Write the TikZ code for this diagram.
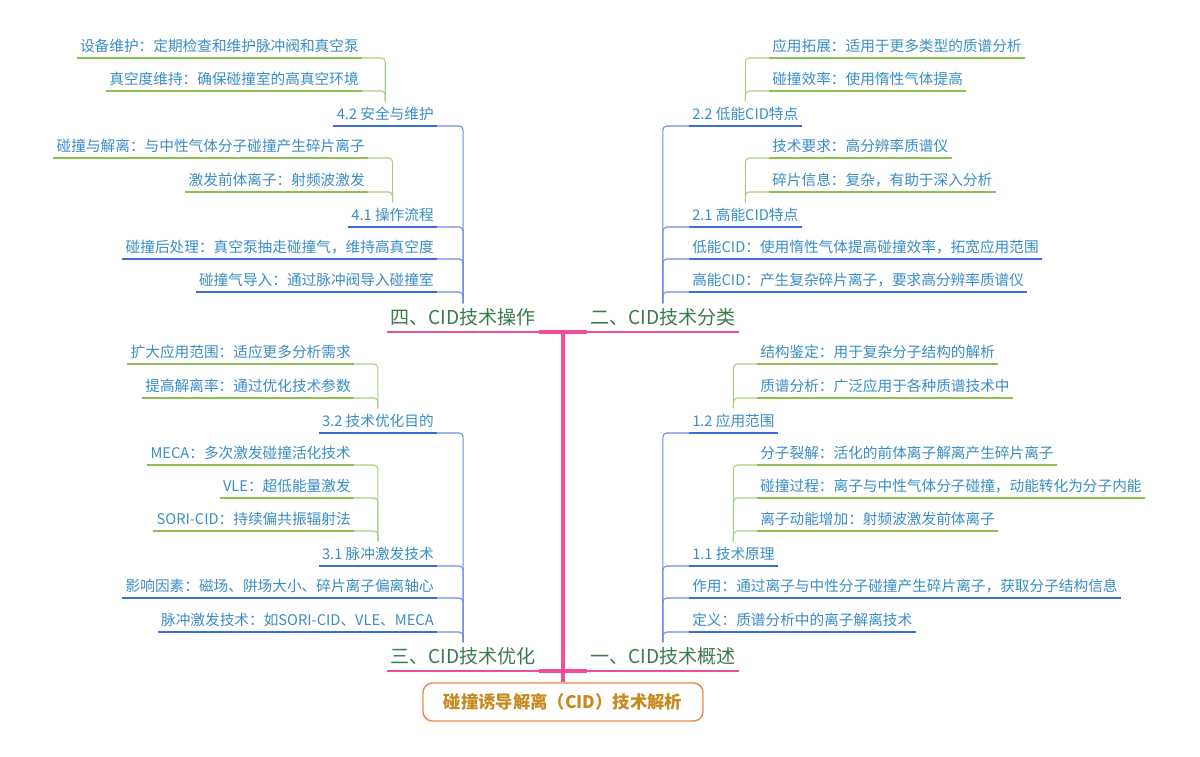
\documentclass[tikz,border=0pt]{standalone}
\usepackage{fontspec}
\setmainfont{Noto Sans CJK SC}
\usepackage{xcolor}
\definecolor{spine}{HTML}{EE4E9B}
\definecolor{mainfg}{HTML}{3B7A4A}
\definecolor{leaffg}{HTML}{3A8DC5}
\definecolor{blueline}{HTML}{3B6FD8}
\definecolor{greenline}{HTML}{8CC152}
\definecolor{bluecon}{HTML}{7089E2}
\definecolor{greencon}{HTML}{A8CF80}
\definecolor{rootfg}{HTML}{C68A1E}
\definecolor{rootline}{HTML}{F08A4B}
\usepackage{tikz}
\usetikzlibrary{positioning,calc}

\begin{document}
\begin{tikzpicture}[x=0.75pt,y=-0.75pt,
	leaf/.style={inner xsep=2.25pt,inner ysep=3.5pt,text height=9.7pt,text depth=1.3pt,font=\fontsize{11pt}{13pt}\selectfont,text=leaffg},
	main/.style={inner xsep=2.25pt,inner ysep=3.4pt,text height=12.6pt,text depth=1.7pt,font=\fontsize{14.3pt}{17pt}\selectfont,text=mainfg},
	bline/.style={draw=blueline,line width=1.1pt},
	gline/.style={draw=greenline,line width=1.1pt},
	pline/.style={draw=spine,line width=1.1pt},
	bcon/.style={draw=bluecon,line width=0.8pt,rounded corners=3pt},
	gcon/.style={draw=greencon,line width=0.8pt,rounded corners=3pt}]
	% canvas
	\fill[white] (0,0) rectangle (1200,757);
	\useasboundingbox (0,0) rectangle (1200,757);
	
	% draw root
	\node[draw=rootline,line width=1.1pt,rounded corners=7pt,fill=white,minimum width=210pt,minimum height=28.5pt,text=rootfg,font=\fontsize{13pt}{15pt}\selectfont\bfseries] (root) at (563,702) {碰撞诱导解离（CID）技术解析};
	
	% draw main branches
	\node[main,anchor=south east] (b4) at (539,332) {四、CID技术操作};
	\node[main,anchor=south west] (b2) at (587,332) {二、CID技术分类};
	\node[main,anchor=south east] (b3) at (539,671) {三、CID技术优化};
	\node[main,anchor=south west] (b1) at (587,671) {一、CID技术概述};
	
	% draw nodes, 四
	\node[leaf,anchor=south east] (b42) at (437,126) {4.2 安全与维护};
	\node[leaf,anchor=south east] (b41) at (437,227) {4.1 操作流程};
	\node[leaf,anchor=south east] (b43) at (437,259) {碰撞后处理：真空泵抽走碰撞气，维持高真空度};
	\node[leaf,anchor=south east] (b44) at (437,292) {碰撞气导入：通过脉冲阀导入碰撞室};
	\node[leaf,anchor=south east] (b421) at (362,58) {设备维护：定期检查和维护脉冲阀和真空泵};
	\node[leaf,anchor=south east] (b422) at (362,91) {真空度维持：确保碰撞室的高真空环境};
	\node[leaf,anchor=south east] (b411) at (368,158) {碰撞与解离：与中性气体分子碰撞产生碎片离子};
	\node[leaf,anchor=south east] (b412) at (368,192) {激发前体离子：射频波激发};
	
	% draw nodes, 二
	\node[leaf,anchor=south west] (b22) at (689,126) {2.2 低能CID特点};
	\node[leaf,anchor=south west] (b21) at (689,227) {2.1 高能CID特点};
	\node[leaf,anchor=south west] (b23) at (689,259) {低能CID：使用惰性气体提高碰撞效率，拓宽应用范围};
	\node[leaf,anchor=south west] (b24) at (689,292) {高能CID：产生复杂碎片离子，要求高分辨率质谱仪};
	\node[leaf,anchor=south west] (b221) at (769,58) {应用拓展：适用于更多类型的质谱分析};
	\node[leaf,anchor=south west] (b222) at (769,91) {碰撞效率：使用惰性气体提高};
	\node[leaf,anchor=south west] (b211) at (769,158) {技术要求：高分辨率质谱仪};
	\node[leaf,anchor=south west] (b212) at (769,192) {碎片信息：复杂，有助于深入分析};
	
	% draw nodes, 三
	\node[leaf,anchor=south east] (b32) at (437,433) {3.2 技术优化目的};
	\node[leaf,anchor=south east] (b31) at (437,566) {3.1 脉冲激发技术};
	\node[leaf,anchor=south east] (b33) at (437,598) {影响因素：磁场、阱场大小、碎片离子偏离轴心};
	\node[leaf,anchor=south east] (b34) at (437,632) {脉冲激发技术：如SORI-CID、VLE、MECA};
	\node[leaf,anchor=south east] (b321) at (354,364) {扩大应用范围：适应更多分析需求};
	\node[leaf,anchor=south east] (b322) at (354,398) {提高解离率：通过优化技术参数};
	\node[leaf,anchor=south east] (b311) at (354,465) {MECA：多次激发碰撞活化技术};
	\node[leaf,anchor=south east] (b312) at (354,498) {VLE：超低能量激发};
	\node[leaf,anchor=south east] (b313) at (354,531) {SORI-CID：持续偏共振辐射法};
	
	% draw nodes, 一
	\node[leaf,anchor=south west] (b12) at (689,433) {1.2 应用范围};
	\node[leaf,anchor=south west] (b11) at (689,566) {1.1 技术原理};
	\node[leaf,anchor=south west] (b13) at (689,598) {作用：通过离子与中性分子碰撞产生碎片离子，获取分子结构信息};
	\node[leaf,anchor=south west] (b14) at (689,632) {定义：质谱分析中的离子解离技术};
	\node[leaf,anchor=south west] (b121) at (757,364) {结构鉴定：用于复杂分子结构的解析};
	\node[leaf,anchor=south west] (b122) at (757,398) {质谱分析：广泛应用于各种质谱技术中};
	\node[leaf,anchor=south west] (b111) at (757,465) {分子裂解：活化的前体离子解离产生碎片离子};
	\node[leaf,anchor=south west] (b112) at (757,498) {碰撞过程：离子与中性气体分子碰撞，动能转化为分子内能};
	\node[leaf,anchor=south west] (b113) at (757,531) {离子动能增加：射频波激发前体离子};
	
	% connectors
	\foreach \p/\c in {b4/b42,b4/b41,b4/b43,b4/b44,b3/b32,b3/b31,b3/b33,b3/b34}
		\draw[bcon] (\p.north) |- (\c.south east);
	\foreach \p/\c in {b42/b421,b42/b422,b41/b411,b41/b412,b32/b321,b32/b322,b31/b311,b31/b312,b31/b313}
		\draw[gcon] (\p.north) |- (\c.south east);
	\foreach \p/\c in {b2/b22,b2/b21,b2/b23,b2/b24,b1/b12,b1/b11,b1/b13,b1/b14}
		\draw[bcon] (\p.north) |- (\c.south west);
	\foreach \p/\c in {b22/b221,b22/b222,b21/b211,b21/b212,b12/b121,b12/b122,b11/b111,b11/b112,b11/b113}
		\draw[gcon] (\p.north) |- (\c.south west);
	
	% underlines
	\foreach \n in {b42,b41,b43,b44,b22,b21,b23,b24,b32,b31,b33,b34,b12,b11,b13,b14}
		\draw[bline] (\n.south west) -- (\n.south east);
	\foreach \n in {b421,b422,b411,b412,b221,b222,b211,b212,b321,b322,b311,b312,b313,b121,b122,b111,b112,b113}
		\draw[gline] (\n.south west) -- (\n.south east);
	\foreach \n in {b1,b2,b3,b4}
		\draw[pline] (\n.south west) -- (\n.south east);
	
	% spine
	\draw[spine,line width=3pt] (root.north) -- (root.north |- b4.south east);
	\draw[spine,line width=3pt] (b4.south east) -- (b2.south west);
	\draw[spine,line width=3pt] (b3.south east) -- (b1.south west);
	
\end{tikzpicture}
\end{document}
